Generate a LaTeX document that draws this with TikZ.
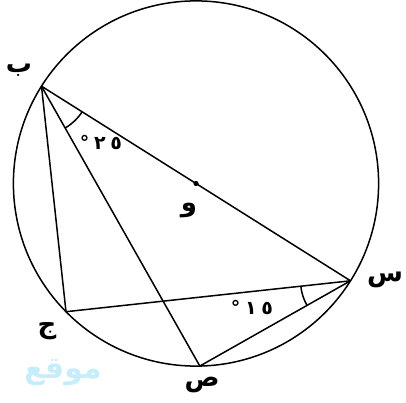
\documentclass[tikz,border=0pt]{standalone}
\usepackage{fontspec}
\usepackage{tikz}
\usetikzlibrary{angles,calc}
\newfontfamily\arabicfont[Script=Arabic]{DejaVu Sans}
\newfontfamily\digitfont[Script=Arabic,LetterSpace=25]{DejaVu Sans}
\TeXXeTstate=1

\begin{document}
\begin{tikzpicture}[x=1pt,y=-1pt,
        line width=1.5pt,
        PointLabel/.style={font=\arabicfont\bfseries\fontsize{26}{26}\selectfont},
        AngleLabel/.style={font=\digitfont\bfseries\fontsize{19}{19}\selectfont}]
        \useasboundingbox (0,0) rectangle (406,403);
        \coordinate (O) at (196,183.5);
        \draw (O) circle (182.6);
        \coordinate (Ba) at ($(O)+(212.2:182.6)$);
        \coordinate (Sin) at ($(O)+(32.2:182.6)$);
        \coordinate (Jim) at ($(O)+(135.4:182.6)$);
        \coordinate (Sad) at ($(O)+(88.8:182.6)$);
        \fill (O) circle (2.6);
        \draw (Ba) -- (Sin);
        \draw (Ba) -- (Jim);
        \draw (Ba) -- (Sad);
        \draw (Jim) -- (Sin);
        \draw (Sad) -- (Sin);
        \pic[draw, angle radius=48] {angle = Sad--Ba--Sin};
        \pic[draw, angle radius=50] {angle = Jim--Sin--Sad};
        \node[PointLabel] (lBa) at (19,70) {\beginR ب\endR};
        \node[PointLabel] (lJim) at (47,331) {\beginR ج\endR};
        \node[PointLabel] (lSad) at (202,385) {\beginR ص\endR};
        \node[PointLabel] (lSin) at (385,280) {\beginR س\endR};
        \node[PointLabel] (lO) at (189,210) {\beginR و\endR};
        \node[AngleLabel] (a25) at (101,142) {٢٥°};
        \node[AngleLabel] (a15) at (252,307) {١٥°};
        \node[font=\arabicfont\bfseries\fontsize{30}{30}\selectfont, text=cyan!22] (mark) at (63,373) {\beginR موقع\endR};
    \end{tikzpicture}
\end{document}
